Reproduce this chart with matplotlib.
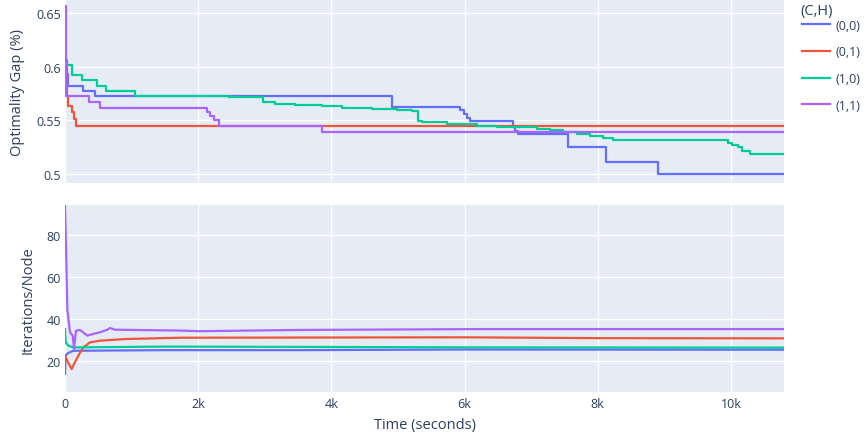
import matplotlib
matplotlib.use("Agg")
import matplotlib.pyplot as plt
from matplotlib.ticker import FixedLocator, FuncFormatter

plt.rcParams['font.family'] = ['Open Sans', 'DejaVu Sans']

# series labels and colors (plotly defaults)
labels = ['(0,0)', '(0,1)', '(1,0)', '(1,1)']
colors = ['#636efa', '#EF553B', '#00cc96', '#ab63fa']

# --- optimality gap (%) : step series, value holds from t until next t ---
gap_t_00 = [0, 10, 50, 266, 450, 4905, 5931, 5990, 6040, 6081, 6722, 6760, 6797, 7553, 8123, 8900, 10800]
gap_v_00 = [0.600, 0.5934, 0.5825, 0.5778, 0.5726, 0.5623, 0.5600, 0.5560, 0.5520, 0.5498, 0.5440, 0.5400,
            0.5374, 0.5250, 0.5115, 0.4998, 0.4998]

gap_t_01 = [0, 26, 50, 101, 135, 165, 10800]
gap_v_01 = [0.601, 0.573, 0.5638, 0.5576, 0.5514, 0.5446, 0.5446]

gap_t_10 = [0, 5, 26, 101, 251, 476, 616, 1051, 2458, 2977, 3153, 3453, 3854, 4155, 4605, 4980, 5206, 5305,
            5356, 5731, 6182, 6482, 7083, 7283, 7477, 7683, 7883, 8083, 8224, 9960, 10015, 10100, 10170,
            10285, 10800]
gap_v_10 = [0.630, 0.6064, 0.6018, 0.5924, 0.5878, 0.5824, 0.5778, 0.5726, 0.5716, 0.567, 0.5654, 0.5642,
            0.5632, 0.5619, 0.5607, 0.5598, 0.5586, 0.5492, 0.5483, 0.547, 0.5451, 0.5440, 0.5423, 0.541,
            0.5395, 0.5374, 0.5352, 0.5334, 0.5318, 0.5290, 0.5274, 0.5255, 0.5218, 0.5187, 0.5187]

gap_t_11 = [0, 8, 15, 365, 525, 2128, 2180, 2237, 2317, 3854, 10800]
gap_v_11 = [0.657, 0.600, 0.5726, 0.5675, 0.562, 0.558, 0.554, 0.5507, 0.5446, 0.539, 0.539]

# --- iterations per node ---
it_t_00 = [0, 8, 50, 125, 1500, 3500, 6000, 10800]
it_v_00 = [14, 22.7, 24.0, 25.0, 25.3, 25.3, 25.6, 25.5]

it_t_01 = [0, 45, 101, 135, 200, 275, 375, 525, 926, 1727, 4000, 6000, 8000, 10800]
it_v_01 = [22.7, 19.5, 16.3, 18.7, 22.7, 26.6, 29.0, 29.8, 30.6, 31.2, 31.3, 31.4, 31.0, 30.9]

it_t_10 = [0, 10, 50, 125, 1500, 4000, 6231, 10800]
it_v_10 = [35.3, 29.0, 27.4, 26.6, 27.0, 26.8, 26.6, 26.5]

it_t_11 = [0, 15, 35, 75, 116, 135, 165, 225, 335, 425, 525, 626, 676, 751, 1727, 2027, 3529, 6231, 10800]
it_v_11 = [93.9, 75, 44.8, 33.8, 32.2, 25.8, 34.5, 34.9, 32.2, 33.0, 33.8, 34.9, 35.8, 35.0, 34.6, 34.3,
           34.9, 35.3, 35.3]

gap_series = [(gap_t_00, gap_v_00), (gap_t_01, gap_v_01), (gap_t_10, gap_v_10), (gap_t_11, gap_v_11)]
it_series = [(it_t_00, it_v_00), (it_t_01, it_v_01), (it_t_10, it_v_10), (it_t_11, it_v_11)]

x_ticks = [0, 2000, 4000, 6000, 8000, 10000]
gap_ticks = [0.5, 0.55, 0.6, 0.65]
it_ticks = [20, 40, 60, 80]

W, H = 867, 439
txt = '#2a3f5f'
bg = '#E5ECF6'

fig = plt.figure(figsize=(W / 100, H / 100), dpi=100)
ax1 = fig.add_axes([65 / W, 1 - 184.3 / H, 719 / W, 184.3 / H])
ax2 = fig.add_axes([65 / W, 1 - 392.7 / H, 719 / W, (392.7 - 206) / H])

for (t, v), c, lab in zip(gap_series, colors, labels):
    ax1.plot(t, v, color=c, lw=1.6, drawstyle='steps-post', label=lab)
for (t, v), c in zip(it_series, colors):
    ax2.plot(t, v, color=c, lw=1.6)

ax1.set_ylim(0.4914, 0.6633)
ax2.set_ylim(5.56, 94.25)
ax1.yaxis.set_major_locator(FixedLocator(gap_ticks))
ax1.yaxis.set_major_formatter(FuncFormatter(lambda v, p: f'{v:g}'))
ax2.yaxis.set_major_locator(FixedLocator(it_ticks))

for ax in (ax1, ax2):
    ax.set_facecolor(bg)
    ax.set_xlim(0, 10796)
    ax.xaxis.set_major_locator(FixedLocator(x_ticks))
    ax.grid(True, color='white', lw=1)
    ax.set_axisbelow(True)
    for s in ax.spines.values():
        s.set_visible(False)
    ax.tick_params(length=0, labelsize=9, colors=txt, pad=3)

ax1.tick_params(labelbottom=False)
ax2.xaxis.set_major_formatter(FuncFormatter(lambda v, p: '0' if v == 0 else f'{int(v / 1000)}k'))
ax2.tick_params(axis='x', pad=4)

fig.text(18 / W, 1 - 92 / H, 'Optimality Gap (%)', rotation=90, ha='center', va='center',
         fontsize=10.5, color=txt)
fig.text(28 / W, 1 - 300 / H, 'Iterations/Node', rotation=90, ha='center', va='center',
         fontsize=10.5, color=txt)
fig.text(424.5 / W, 1 - 426 / H, 'Time (seconds)', ha='center', va='center', fontsize=10.5, color=txt)

# legend title placed separately, entries below
fig.text(800 / W, 1 - 11 / H, '(C,H)', ha='left', va='center', fontsize=10.5, color=txt)
leg = fig.legend(loc='upper left', bbox_to_anchor=(797 / W, 1 - 14.5 / H), frameon=False,
                 fontsize=9, handlelength=2.2, handletextpad=0.45,
                 labelspacing=1.1, borderaxespad=0)
for t in leg.get_texts():
    t.set_color(txt)

fig.savefig('out.png', dpi=100)
